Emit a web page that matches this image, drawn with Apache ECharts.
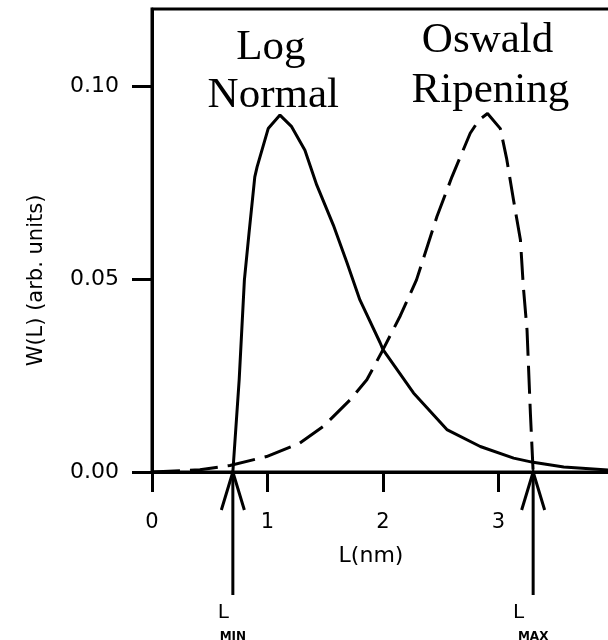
<!DOCTYPE html>
<html>
<head>
<meta charset="utf-8">
<script src="https://cdn.jsdelivr.net/npm/echarts@6/dist/echarts.min.js"></script>
<style>
  html, body { margin: 0; padding: 0; background: #fff; }
  #main { width: 608px; height: 640px; }
</style>
</head>
<body>
<div id="main"></div>
<script>
// values
const logNormalL = [0.70, 0.755, 0.80, 0.84, 0.89, 0.91, 1.006, 1.108, 1.209, 1.324, 1.426, 1.57, 1.686, 1.80, 1.975, 2.0, 2.264, 2.553, 2.842, 3.131, 3.30, 3.565, 4.0];
const logNormalW = [0, 0.024, 0.0498, 0.0619, 0.0765, 0.0791, 0.089, 0.0925, 0.0895, 0.0834, 0.0744, 0.064, 0.0544, 0.0446, 0.0335, 0.0317, 0.0205, 0.011, 0.0066, 0.0036, 0.0025, 0.0013, 0.0004];

const oswaldL = [0, 0.3, 0.415, 0.675, 0.992, 1.28, 1.483, 1.715, 1.86, 2.0, 2.15, 2.29, 2.467, 2.597, 2.755, 2.83, 2.905, 3.016, 3.07, 3.13, 3.19, 3.215, 3.247, 3.276, 3.30];
const oswaldW = [0, 0.0004, 0.0006, 0.0017, 0.004, 0.0075, 0.0118, 0.0187, 0.0239, 0.0317, 0.0405, 0.0498, 0.0662, 0.0765, 0.0878, 0.0912, 0.0929, 0.089, 0.0813, 0.0705, 0.0601, 0.048, 0.0368, 0.0153, 0];

const xTicks = [0, 1, 2, 3, 4];
const yTicks = [0, 0.05, 0.10];

const lMin = 0.70;
const lMax = 3.30;

var chartDom = document.getElementById('main');
var myChart = echarts.init(chartDom);
var option;

function pairs(xs, ys) {
  return xs.map((x, i) => [x, ys[i]]);
}

const sans = 'DejaVu Sans';
const serif = 'Liberation Serif';

option = {
  animation: false,
  grid: {
    left: 152,
    top: 9,
    right: -6,
    bottom: 168,
    containLabel: false,
    outerBoundsMode: 'none',
    show: true,
    borderColor: '#000',
    borderWidth: 3
  },
  xAxis: {
    type: 'value',
    min: 0,
    max: 4,
    interval: 1,
    name: 'L(nm)',
    nameLocation: 'middle',
    nameGap: 73,
    nameTextStyle: { fontFamily: sans, fontSize: 22, color: '#000', padding: [0, 24, 0, 0] },
    axisLine: { lineStyle: { color: '#000', width: 3 } },
    axisTick: { show: true, length: 20, inside: false, customValues: xTicks, lineStyle: { color: '#000', width: 3 } },
    axisLabel: { customValues: xTicks, margin: 40, fontFamily: sans, fontSize: 21, color: '#000' },
    splitLine: { show: false }
  },
  yAxis: {
    type: 'value',
    min: 0,
    max: 0.12,
    interval: 0.05,
    name: 'W(L) (arb. units)',
    nameLocation: 'middle',
    nameGap: 105,
    nameTextStyle: { fontFamily: sans, fontSize: 21, color: '#000', padding: [0, 80, 0, 0] },
    axisLine: { lineStyle: { color: '#000', width: 3 } },
    axisTick: { show: true, length: 20, inside: false, customValues: yTicks, lineStyle: { color: '#000', width: 3 } },
    axisLabel: { customValues: yTicks, margin: 33, fontFamily: sans, fontSize: 22, color: '#000',
      formatter: v => v.toFixed(2) },
    splitLine: { show: false }
  },
  series: [
    {
      name: 'Log Normal',
      type: 'line',
      data: pairs(logNormalL, logNormalW),
      symbol: 'none',
      lineStyle: { color: '#000', width: 3 }
    },
    {
      name: 'Oswald Ripening',
      type: 'line',
      data: pairs(oswaldL, oswaldW),
      symbol: 'none',
      lineStyle: { color: '#000', width: 3, type: [28, 10] }
    }
  ]
};

option && myChart.setOption(option);

// curve titles and L_MIN / L_MAX arrows, placed through the axes
const y0 = myChart.convertToPixel({ yAxisIndex: 0 }, 0);
const graphics = [];
function serifText(text, x, y) {
  graphics.push({
    type: 'text', x: x, y: y,
    style: { text: text, font: '43px "' + serif + '"', fill: '#000', align: 'center', verticalAlign: 'middle' }
  });
}
serifText('Log', myChart.convertToPixel({ xAxisIndex: 0 }, 1.03), 48);
serifText('Normal', myChart.convertToPixel({ xAxisIndex: 0 }, 1.05), 96);
serifText('Oswald', myChart.convertToPixel({ xAxisIndex: 0 }, 2.905), 41);
serifText('Ripening', myChart.convertToPixel({ xAxisIndex: 0 }, 2.93), 91);

[[lMin, 'MIN', 4], [lMax, 'MAX', 9]].forEach(function (a) {
  const px = myChart.convertToPixel({ xAxisIndex: 0 }, a[0]);
  graphics.push({
    type: 'line', shape: { x1: px, y1: y0, x2: px, y2: y0 + 123 },
    style: { stroke: '#000', lineWidth: 3 }
  });
  graphics.push({
    type: 'polyline', shape: { points: [[px - 11.5, y0 + 38], [px, y0], [px + 11.5, y0 + 38]] },
    style: { stroke: '#000', lineWidth: 3, fill: null }
  });
  graphics.push({
    type: 'text', x: px - a[2], y: y0 + 141,
    style: { text: 'L', font: '20px "' + sans + '"', fill: '#000', align: 'right', verticalAlign: 'middle' }
  });
  graphics.push({
    type: 'text', x: px, y: y0 + 165,
    style: { text: a[1], font: 'bold 12px "' + sans + '"', fill: '#000', align: 'center', verticalAlign: 'middle' }
  });
});

myChart.setOption({ graphic: graphics });
</script>
</body>
</html>
